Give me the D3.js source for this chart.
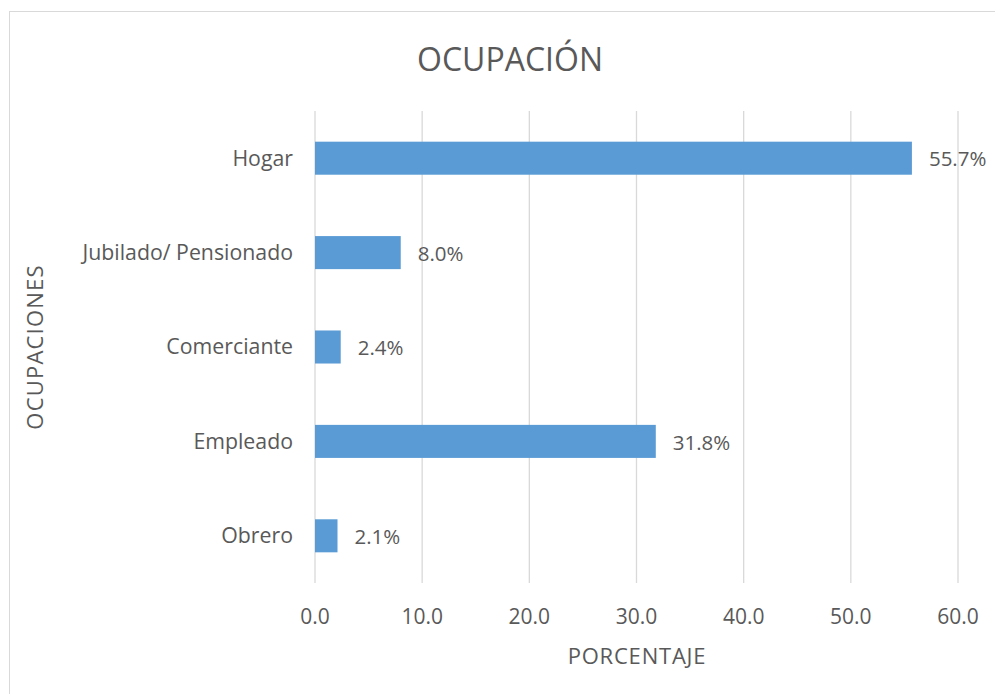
<!DOCTYPE html>
<html>
<head>
<meta charset="utf-8">
<script src="https://cdn.jsdelivr.net/npm/d3@7"></script>
<style>
  body { margin: 0; background: #fff; }
  text { font-family: "Open Sans", "Noto Sans", sans-serif; fill: #595959; }
</style>
</head>
<body>
<script>
// data (top to bottom)
const categories = ["Hogar", "Jubilado/ Pensionado", "Comerciante", "Empleado", "Obrero"];
const values = [55.7, 8.0, 2.4, 31.8, 2.1];
const xTicks = [0, 10, 20, 30, 40, 50, 60];

const width = 995, height = 694;
const margin = {top: 111, right: 37, bottom: 111, left: 315};
const fs = 21;

const svg = d3.select("body").append("svg")
    .attr("width", width)
    .attr("height", height);

// chart frame (runs off the right and bottom edge)
svg.append("rect")
    .attr("x", 9.5).attr("y", 11.5)
    .attr("width", 1000).attr("height", 700)
    .attr("fill", "#fff")
    .attr("stroke", "#d9d9d9");

const x = d3.scaleLinear().domain([0, 60]).range([margin.left, width - margin.right]);
const y = d3.scaleBand().domain(categories)
    .range([margin.top, height - margin.bottom])
    .paddingInner(0.65).paddingOuter(0.325);

// gridlines
svg.append("g").selectAll("line")
  .data(xTicks)
  .join("line")
    .attr("x1", d => x(d)).attr("x2", d => x(d))
    .attr("y1", margin.top).attr("y2", height - margin.bottom)
    .attr("stroke", "#d9d9d9")
    .attr("stroke-width", 1.3);

// bars
svg.append("g").selectAll("rect")
  .data(categories)
  .join("rect")
    .attr("x", x(0))
    .attr("y", d => y(d))
    .attr("width", (d, i) => x(values[i]) - x(0))
    .attr("height", y.bandwidth())
    .attr("fill", "#5b9bd5");

// value labels
svg.append("g").selectAll("text")
  .data(categories)
  .join("text")
    .attr("x", (d, i) => x(values[i]) + 17)
    .attr("y", d => y(d) + y.bandwidth() / 2 + 1)
    .attr("dy", "0.35em")
    .attr("font-size", 20.5)
    .text((d, i) => values[i].toFixed(1) + "%");

// category labels
svg.append("g").selectAll("text")
  .data(categories)
  .join("text")
    .attr("x", 293)
    .attr("y", d => y(d) + y.bandwidth() / 2)
    .attr("dy", "0.35em")
    .attr("text-anchor", "end")
    .attr("font-size", 21.3)
    .text(d => d);

// x tick labels
svg.append("g").selectAll("text")
  .data(xTicks)
  .join("text")
    .attr("x", d => x(d))
    .attr("y", 617)
    .attr("dy", "0.35em")
    .attr("text-anchor", "middle")
    .attr("font-size", fs)
    .text(d => d.toFixed(1));

// titles
svg.append("text")
    .attr("x", 510).attr("y", 71)
    .attr("text-anchor", "middle")
    .attr("font-size", 32)
    .text("OCUPACIÓN");

svg.append("text")
    .attr("x", 637).attr("y", 656)
    .attr("dy", "0.35em")
    .attr("text-anchor", "middle")
    .attr("font-size", 22)
    .attr("letter-spacing", 0.8)
    .text("PORCENTAJE");

svg.append("text")
    .attr("transform", "translate(35,347) rotate(-90)")
    .attr("dy", "0.35em")
    .attr("text-anchor", "middle")
    .attr("font-size", 22)
    .attr("letter-spacing", 1.2)
    .text("OCUPACIONES");
</script>
</body>
</html>
